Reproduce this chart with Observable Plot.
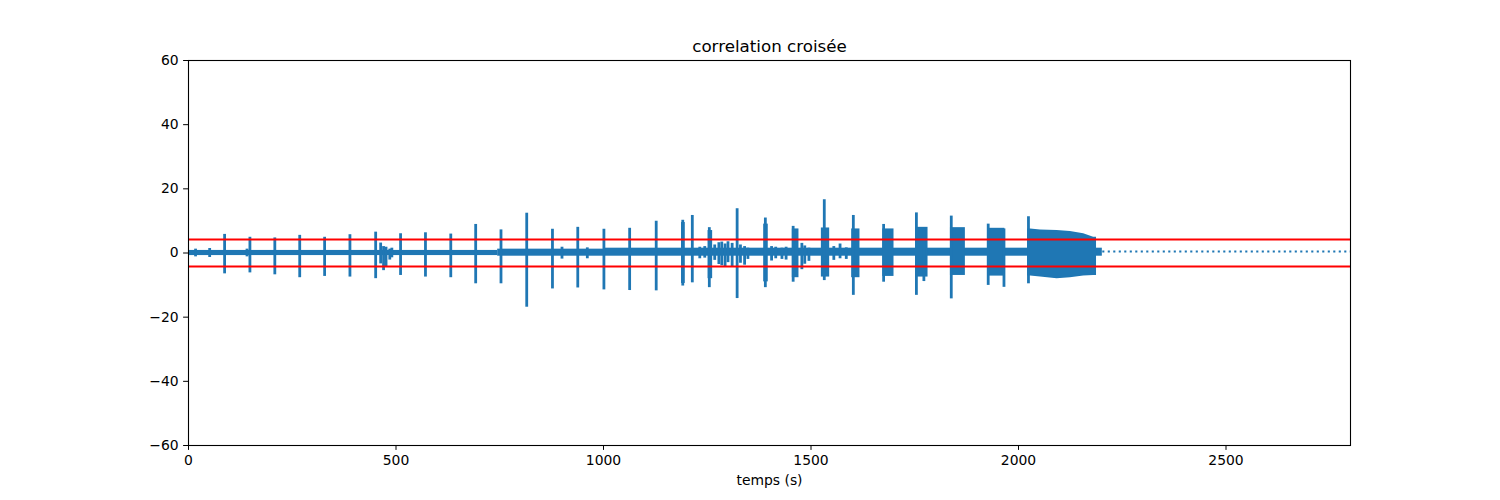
<!DOCTYPE html>
<html><head><meta charset="utf-8">
<script src="https://cdn.jsdelivr.net/npm/d3@7"></script>
<script src="https://cdn.jsdelivr.net/npm/@observablehq/plot@0.6"></script>
<style>body{margin:0;background:#fff}</style>
</head><body><div id="chart"></div>
<script>
const title = "correlation croisée";
const xLabel = "temps (s)";
const xTicks = [0, 500, 1000, 1500, 2000, 2500];
const yTicks = [-60, -40, -20, 0, 20, 40, 60];
const threshold = 4.2;

// baseline noise band
const bandStart  = [0, 745, 1000];
const bandEnd    = [745, 1000, 2202];
const bandTop    = [0.8, 1.2, 1.5];
const bandBottom = [-0.8, -1.0, -1.0];

// sustained bursts (blocks)
const blockStart  = [1188, 1252, 1386, 1455, 1525, 1598, 1673, 1752, 1836, 1926];
const blockEnd    = [1197, 1263, 1397, 1471, 1545, 1618, 1700, 1782, 1872, 1967];
const blockTop    = [9.5, 7.0, 9.0, 7.5, 7.8, 7.5, 7.5, 8.0, 7.9, 7.7];
const blockBottom = [-9.5, -8.0, -9.0, -7.7, -7.5, -7.7, -7.3, -7.5, -7.0, -7.2];

// last long burst envelope
const lastT      = [2022, 2029, 2053, 2093, 2125, 2157, 2181, 2188];
const lastTop    = [7.5, 7.5, 7.2, 7.0, 6.7, 6.0, 4.9, 4.9];
const lastBottom = [-7.2, -7.2, -7.5, -8.0, -7.7, -7.2, -7.0, -7.0];

// spikes (time, top, bottom)
const spikeT = [17, 51, 87, 141, 148, 208, 268, 328, 389, 451, 463, 470, 476, 485, 490, 511, 571, 632, 692, 753,
  815, 877, 900, 938, 961, 1001, 1063, 1127, 1191, 1214, 1232, 1244, 1255, 1268, 1278, 1285, 1293, 1300, 1310, 1322,
  1330, 1340, 1348, 1390, 1405, 1415, 1430, 1440, 1457, 1478, 1485, 1495, 1532, 1555, 1570, 1585, 1602, 1675,
  1754, 1772, 1838, 1927, 1965, 2024];
const spikeTop = [1.2, 1.4, 5.8, 1.2, 4.9, 4.7, 5.5, 4.9, 5.7, 6.5, 3.1, 2.0, 1.8, 1.2, 1.5, 6.0, 6.3, 5.9, 8.9, 7.2,
  12.4, 7.4, 1.8, 8.0, 1.6, 7.4, 7.7, 9.9, 10.2, 11.7, 1.8, 2.0, 7.9, 2.5, 3.2, 3.4, 2.8, 3.5, 3.0, 13.8,
  2.5, 2.0, 1.5, 10.9, 2.0, 1.8, 1.5, 1.8, 8.3, 3.0, 2.2, 1.5, 16.6, 2.0, 2.8, 1.6, 11.7, 8.9,
  12.5, 7.5, 11.5, 9.0, 7.5, 11.3];
const spikeBottom = [-1.2, -1.4, -6.5, -1.2, -6.2, -6.8, -7.7, -7.3, -7.5, -8.0, -3.4, -5.5, -4.4, -2.2, -1.5, -7.0, -7.5, -7.7, -9.6, -9.6,
  -16.9, -11.2, -1.9, -10.9, -1.8, -11.5, -11.7, -11.8, -10.3, -9.3, -1.8, -1.6, -10.8, -2.3, -3.6, -4.0, -4.5, -3.0, -4.2, -14.2,
  -3.2, -3.8, -2.0, -10.8, -2.5, -1.8, -2.0, -2.2, -9.1, -5.2, -3.5, -2.6, -8.6, -2.3, -1.8, -2.0, -13.2, -9.1,
  -13.2, -8.9, -14.3, -10.1, -10.7, -9.6];

// dotted tail after the signal ends
const tailStart = 2203, tailEnd = 2800, tailValue = 0.47;

const blue = "#1f77b4";
const idx = n => d3.range(n);

const chart = Plot.plot({
  width: 1500, height: 500,
  marginLeft: 188, marginRight: 150, marginTop: 60, marginBottom: 55,
  x: {domain: [0, 2800]},
  y: {domain: [-60, 60]},
  style: {fontFamily: "DejaVu Sans", fontSize: "13.9px", color: "black", background: "white"},
  marks: [
    Plot.rect(idx(bandStart.length), {x1: i => bandStart[i], x2: i => bandEnd[i], y1: i => bandBottom[i], y2: i => bandTop[i], fill: blue}),
    Plot.rect(idx(blockStart.length), {x1: i => blockStart[i], x2: i => blockEnd[i], y1: i => blockBottom[i], y2: i => blockTop[i], fill: blue}),
    Plot.areaY(idx(lastT.length), {x: i => lastT[i], y1: i => lastBottom[i], y2: i => lastTop[i], fill: blue}),
    Plot.ruleX(idx(spikeT.length), {x: i => spikeT[i], y1: i => spikeBottom[i], y2: i => spikeTop[i], stroke: blue, strokeWidth: 2.8}),
    Plot.ruleY([tailValue], {x1: tailStart, x2: tailEnd, stroke: blue, strokeWidth: 2.1, strokeDasharray: "2.1,3.4"}),
    Plot.ruleY([threshold, -threshold], {stroke: "red", strokeWidth: 2}),
    Plot.axisX({ticks: xTicks, tickSize: 4.9, tickPadding: 4.9, tickFormat: d3.format("d"), label: null}),
    Plot.axisY({ticks: yTicks, tickSize: 4.9, tickPadding: 4.9, tickFormat: d3.format("d"), label: null}),
    Plot.frame({stroke: "black", strokeWidth: 1.1}),
    Plot.text([title], {text: d => d, frameAnchor: "top", dy: -14, lineAnchor: "middle", fontSize: 16.7}),
    Plot.text([xLabel], {text: d => d, frameAnchor: "bottom", dy: 35, lineAnchor: "middle", fontSize: 13.9})
  ]
});
document.getElementById("chart").appendChild(chart);
</script></body></html>
